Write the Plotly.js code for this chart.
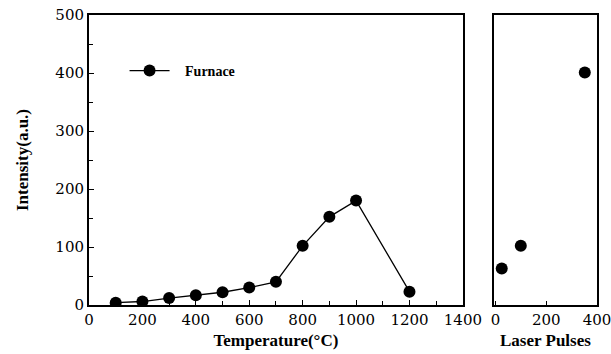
<!DOCTYPE html>
<html><head><meta charset="utf-8">
<script src="https://cdn.plot.ly/plotly-3.0.1.min.js"></script>
<style>html,body{margin:0;padding:0;background:#fff}#chart{width:611px;height:354px}</style>
</head><body><div id="chart"></div>
<script>
const temperature = [100, 200, 300, 400, 500, 600, 700, 800, 900, 1000, 1200];
const furnaceIntensity = [4, 6, 12, 17, 22, 30, 40, 102, 152, 180, 23];
const laserPulses = [25, 100, 352];
const laserIntensity = [63, 102, 401];

const tickFont = {family: 'DejaVu Serif', size: 15, color: '#000'};
const titleFont = {family: 'Liberation Serif', size: 17, color: '#000', weight: 'bold'};

const traces = [
  {x: temperature, y: furnaceIntensity, type: 'scatter', mode: 'lines+markers', name: '\u00a0\u00a0\u00a0Furnace',
   line: {color: '#000', width: 1.3}, marker: {color: '#000', size: 12}, xaxis: 'x', yaxis: 'y'},
  {x: laserPulses, y: laserIntensity, type: 'scatter', mode: 'markers', name: 'Laser',
   marker: {color: '#000', size: 12}, xaxis: 'x2', yaxis: 'y2', showlegend: false}
];

const layout = {
  width: 611, height: 354,
  margin: {l: 89, r: 14, t: 15, b: 49},
  paper_bgcolor: '#fff', plot_bgcolor: '#fff',
  showlegend: true,
  legend: {x: 0.07, y: 0.807, xanchor: 'left', yanchor: 'middle', bgcolor: 'rgba(0,0,0,0)',
           itemwidth: 40,
           font: {family: 'Liberation Serif', size: 14, color: '#000', weight: 'bold'}},
  xaxis: {domain: [0, 0.736], range: [0, 1400], dtick: 200, tick0: 0,
          ticks: 'inside', ticklen: 5, tickwidth: 1, tickcolor: '#000',
          minor: {dtick: 100, ticks: 'inside', ticklen: 4, tickcolor: '#000'},
          showline: true, linecolor: '#000', linewidth: 2, mirror: true,
          showgrid: false, zeroline: false, tickfont: tickFont,
          title: {text: 'Temperature(°C)', font: titleFont, standoff: 6}},
  yaxis: {domain: [0, 1], range: [0, 500], dtick: 100,
          ticks: 'inside', ticklen: 5, tickwidth: 1, tickcolor: '#000',
          minor: {dtick: 50, ticks: 'inside', ticklen: 4, tickcolor: '#000'},
          showline: true, linecolor: '#000', linewidth: 2, mirror: true,
          showgrid: false, zeroline: false, tickfont: tickFont,
          title: {text: 'Intensity(a.u.)', font: titleFont, standoff: 22}},
  xaxis2: {domain: [0.797, 1], range: [-6, 400], dtick: 200, tick0: 0, anchor: 'y2',
           ticks: 'inside', ticklen: 4, tickwidth: 1, tickcolor: '#000',
           ticklabeloverflow: 'allow',
           showline: true, linecolor: '#000', linewidth: 2, mirror: true,
           showgrid: false, zeroline: false, tickfont: tickFont,
           title: {text: 'Laser Pulses', font: titleFont, standoff: 6}},
  yaxis2: {domain: [0, 1], range: [0, 500], anchor: 'x2', showticklabels: false, ticks: '',
           showline: true, linecolor: '#000', linewidth: 2, mirror: true,
           showgrid: false, zeroline: false}
};

Plotly.newPlot('chart', traces, layout, {displayModeBar: false, staticPlot: true});
</script></body></html>
